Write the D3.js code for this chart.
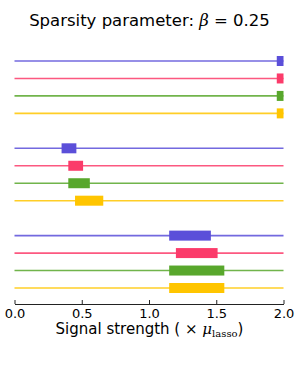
<!DOCTYPE html>
<html>
<head>
<meta charset="utf-8">
<script src="https://cdn.jsdelivr.net/npm/d3@7"></script>
<style>
  body { margin: 0; background: white; }
  svg { display: block; }
</style>
</head>
<body>
<div id="chart"></div>
<script>
// row slots: 4 methods per group, one empty slot between groups
const rowSlots = [0, 1, 2, 3, 5, 6, 7, 8, 10, 11, 12, 13];
const rowColors = ['#5b4fd9', '#fb3b6a', '#58a72c', '#ffc500',
                   '#5b4fd9', '#fb3b6a', '#58a72c', '#ffc500',
                   '#5b4fd9', '#fb3b6a', '#58a72c', '#ffc500'];
// interval (low, high) of each thick box, in units of mu_lasso
const boxLow  = [1.95, 1.95, 1.95, 1.95, 0.35, 0.40, 0.40, 0.45, 1.15, 1.20, 1.15, 1.15];
const boxHigh = [2.00, 2.00, 2.00, 2.00, 0.46, 0.51, 0.56, 0.66, 1.46, 1.51, 1.56, 1.56];
const xTicks = [0.0, 0.5, 1.0, 1.5, 2.0];
const xDomain = [0, 2];

const width = 299, height = 374;
const margin = {left: 14.5, right: 15.5, top: 61, bottom: 304};

const svg = d3.select("#chart").append("svg")
    .attr("width", width)
    .attr("height", height);

const x = d3.scaleLinear().domain(xDomain).range([margin.left, width - margin.right]);
const y = d3.scaleLinear().domain([0, 13]).range([61, 288]);

//Title
svg.append("text")
    .attr("x", width / 2)
    .attr("y", 25.5)
    .attr("text-anchor", "middle")
    .attr("font-family", "DejaVu Sans")
    .attr("font-size", 16.5)
    .attr("fill", "black")
    .html('Sparsity parameter: <tspan font-family="DejaVu Serif" font-style="italic">β</tspan> = 0.25');

//Thin lines over whole range
svg.append("g").selectAll("line")
    .data(rowSlots)
    .join("line")
    .attr("x1", x(xDomain[0]))
    .attr("x2", x(xDomain[1]))
    .attr("y1", d => y(d))
    .attr("y2", d => y(d))
    .attr("stroke", (d, i) => rowColors[i])
    .attr("stroke-opacity", 0.85)
    .attr("stroke-width", 1.6);

//Thick boxes
svg.append("g").selectAll("rect")
    .data(rowSlots)
    .join("rect")
    .attr("x", (d, i) => x(boxLow[i]))
    .attr("width", (d, i) => x(boxHigh[i]) - x(boxLow[i]))
    .attr("y", d => y(d) - 5)
    .attr("height", 10)
    .attr("fill", (d, i) => rowColors[i]);

//Axis
const xAxis = d3.axisBottom(x)
    .tickValues(xTicks)
    .tickFormat(d3.format(".1f"))
    .tickSizeInner(-4)
    .tickSizeOuter(0);

const axisG = svg.append("g")
    .attr("transform", "translate(0," + margin.bottom + ")")
    .call(xAxis);
axisG.select(".domain").attr("stroke", "#222").attr("stroke-width", 1);
axisG.selectAll(".tick line").attr("stroke", "#222").attr("stroke-width", 1);
axisG.selectAll(".tick text")
    .attr("y", 5)
    .attr("dy", "0.71em")
    .attr("font-family", "DejaVu Sans")
    .attr("font-size", 13)
    .attr("fill", "black");

//X label
svg.append("text")
    .attr("x", width / 2)
    .attr("y", 334)
    .attr("text-anchor", "middle")
    .attr("font-family", "DejaVu Sans")
    .attr("font-size", 15)
    .attr("fill", "black")
    .html('Signal strength ( <tspan font-family="DejaVu Serif">×</tspan> <tspan font-family="DejaVu Serif" font-style="italic">μ</tspan><tspan font-family="DejaVu Serif" font-size="10" dy="3">lasso</tspan><tspan dy="-3">)</tspan>');
</script>
</body>
</html>
